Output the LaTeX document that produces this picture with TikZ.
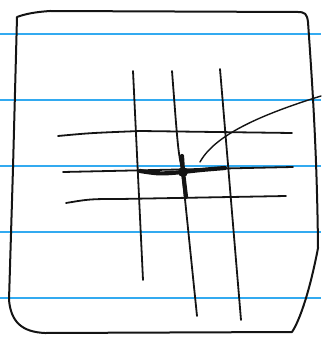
\documentclass[tikz,border=0pt]{standalone}
\definecolor{ruled}{RGB}{50,170,240}
\definecolor{ink}{RGB}{20,20,20}
\tikzset{
  ruleline/.style={ruled, line width=2.6pt},
  pen/.style={ink, line width=1.8pt, line cap=round, line join=round},
  thickpen/.style={ink, line width=4.2pt, line cap=round, line join=round},
}
\begin{document}
\begin{tikzpicture}[x=1pt,y=-1pt]
\useasboundingbox (0,0) rectangle (321,339);
% notebook rules
\foreach \yy in {34,100,166,232,298} \draw[ruleline] (0,\yy) -- (321,\yy);
% outer hand-drawn box
\draw[pen, line width=2pt] (17,17) .. controls (25,14) and (35,12) .. (50,11)
  -- (298,12) .. controls (305,12) and (307,14) .. (308,22)
  .. controls (312,80) and (317,150) .. (318,248)
  .. controls (310,290) and (300,320) .. (292,332)
  -- (45,333) .. controls (22,332) and (11,322) .. (9,300)
  -- (13,168) -- (17,17);
% vertical lines
\draw[pen] (133,71) -- (143,280);
\draw[pen] (172,71) .. controls (178,150) .. (182,170) -- (197,316);
\draw[pen] (220,69) -- (241,320);
% horizontal lines
\draw[pen] (58,136) .. controls (90,133) .. (140,131) -- (292,133);
\draw[pen] (66,203) .. controls (90,199) .. (120,199) -- (286,196);
\draw[pen] (63,172) -- (293,167);
% thick cross
\draw[thickpen] (140,171) .. controls (160,174) .. (183,172) .. controls (200,170) .. (225,168);
\draw[thickpen] (182,156) -- (183,172) -- (186,197);
\fill[ink] (183,172) circle (5);
% pointer curve
\draw[pen, line width=1.4pt] (200,162) .. controls (215,135) and (260,115) .. (321,96);
\end{tikzpicture}
\end{document}
